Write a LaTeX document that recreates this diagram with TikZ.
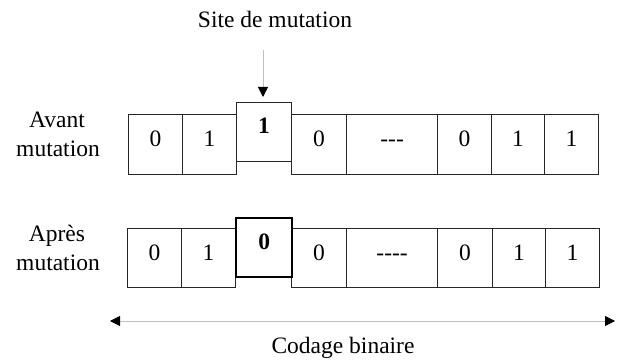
\documentclass[tikz,border=0pt]{standalone}
\usepackage{fontspec}
\setmainfont{Liberation Serif}
\usetikzlibrary{arrows.meta}
\begin{document}
\begin{tikzpicture}[x=1pt,y=-1pt,
  every node/.style={font=\fontsize{23.5}{27}\selectfont},
  cell/.style={draw=black!85,line width=1.2pt,inner sep=0pt,anchor=north west,minimum height=60pt},
  sitebox/.style={draw=black!85,fill=white,line width=1.2pt,inner sep=0pt,anchor=north west,minimum width=55pt,minimum height=59pt},
  newbox/.style={draw=black,fill=white,line width=2.4pt,inner sep=0pt,anchor=north west,minimum width=55pt,minimum height=59pt},
  digit/.style={anchor=base,inner sep=0pt},
  lbl/.style={anchor=base,inner sep=0pt},
  guide/.style={draw=black!25,line width=0.8pt,{Triangle[color=black,length=10pt,width=10pt]}-{Triangle[color=black,length=10pt,width=10pt]}},
  pointer/.style={draw=black!25,line width=0.8pt,-{Triangle[color=black,length=10pt,width=10pt]}}
]
\useasboundingbox (0,0) rectangle (624,363);

% ---------- Avant mutation ----------
\node[cell,minimum width=54pt] (a1) at (128,114) {};
\node[cell,minimum width=54pt] (a2) at (182,114) {};
\node[cell,minimum width=55pt] (a4) at (291,114) {};
\node[cell,minimum width=91pt] (a5) at (346,114) {};
\node[cell,minimum width=54pt] (a6) at (437,114) {};
\node[cell,minimum width=53pt] (a7) at (491,114) {};
\node[cell,minimum width=54pt] (a8) at (544,114) {};
\node[sitebox] (as) at (236,102) {};

\node[digit] (ta1) at ([yshift=-33pt]a1.north) {0};
\node[digit] (ta2) at ([yshift=-33pt]a2.north) {1};
\node[digit] (tas) at ([yshift=-32pt]as.north) {\bfseries 1};
\node[digit] (ta4) at ([yshift=-33pt]a4.north) {0};
\node[digit] (ta5) at ([yshift=-33pt]a5.north) {{-}{-}{-}};
\node[digit] (ta6) at ([yshift=-33pt]a6.north) {0};
\node[digit] (ta7) at ([yshift=-33pt]a7.north) {1};
\node[digit] (ta8) at ([yshift=-33pt]a8.north) {1};

% ---------- Apres mutation ----------
\node[cell,minimum width=54pt,minimum height=59pt] (b1) at (127,228) {};
\node[cell,minimum width=54pt,minimum height=59pt] (b2) at (181,228) {};
\node[cell,minimum width=55pt,minimum height=59pt] (b4) at (291,228) {};
\node[cell,minimum width=91pt,minimum height=59pt] (b5) at (346,228) {};
\node[cell,minimum width=55pt,minimum height=59pt] (b6) at (437,228) {};
\node[cell,minimum width=53pt,minimum height=59pt] (b7) at (492,228) {};
\node[cell,minimum width=54pt,minimum height=59pt] (b8) at (545,228) {};
\node[newbox,minimum width=56pt] (bs) at (235,217) {};

\node[digit] (tb1) at ([yshift=-33pt]b1.north) {0};
\node[digit] (tb2) at ([yshift=-33pt]b2.north) {1};
\node[digit] (tbs) at ([yshift=-33pt]bs.north) {\bfseries 0};
\node[digit] (tb4) at ([yshift=-33pt]b4.north) {0};
\node[digit] (tb5) at ([yshift=-33pt]b5.north) {{-}{-}{-}{-}};
\node[digit] (tb6) at ([yshift=-33pt]b6.north) {0};
\node[digit] (tb7) at ([yshift=-33pt]b7.north) {1};
\node[digit] (tb8) at ([yshift=-33pt]b8.north) {1};

% ---------- labels ----------
\node[lbl] (l1) at (57,128) {Avant};
\node[lbl] (l2) at (58,157) {mutation};
\node[lbl] (l3) at (57,242) {Après};
\node[lbl] (l4) at (58,271) {mutation};

\node[lbl] (site) at (275,28) {Site de mutation};
\coordinate (ptop) at (263,50);
\coordinate (pend) at (263,97);
\draw[pointer] (ptop) -- (pend);

\coordinate (cl) at (110,321);
\coordinate (cr) at (615,321);
\draw[guide] (cl) -- (cr);
\node[lbl] (cod) at (343,354) {Codage binaire};
\end{tikzpicture}
\end{document}
